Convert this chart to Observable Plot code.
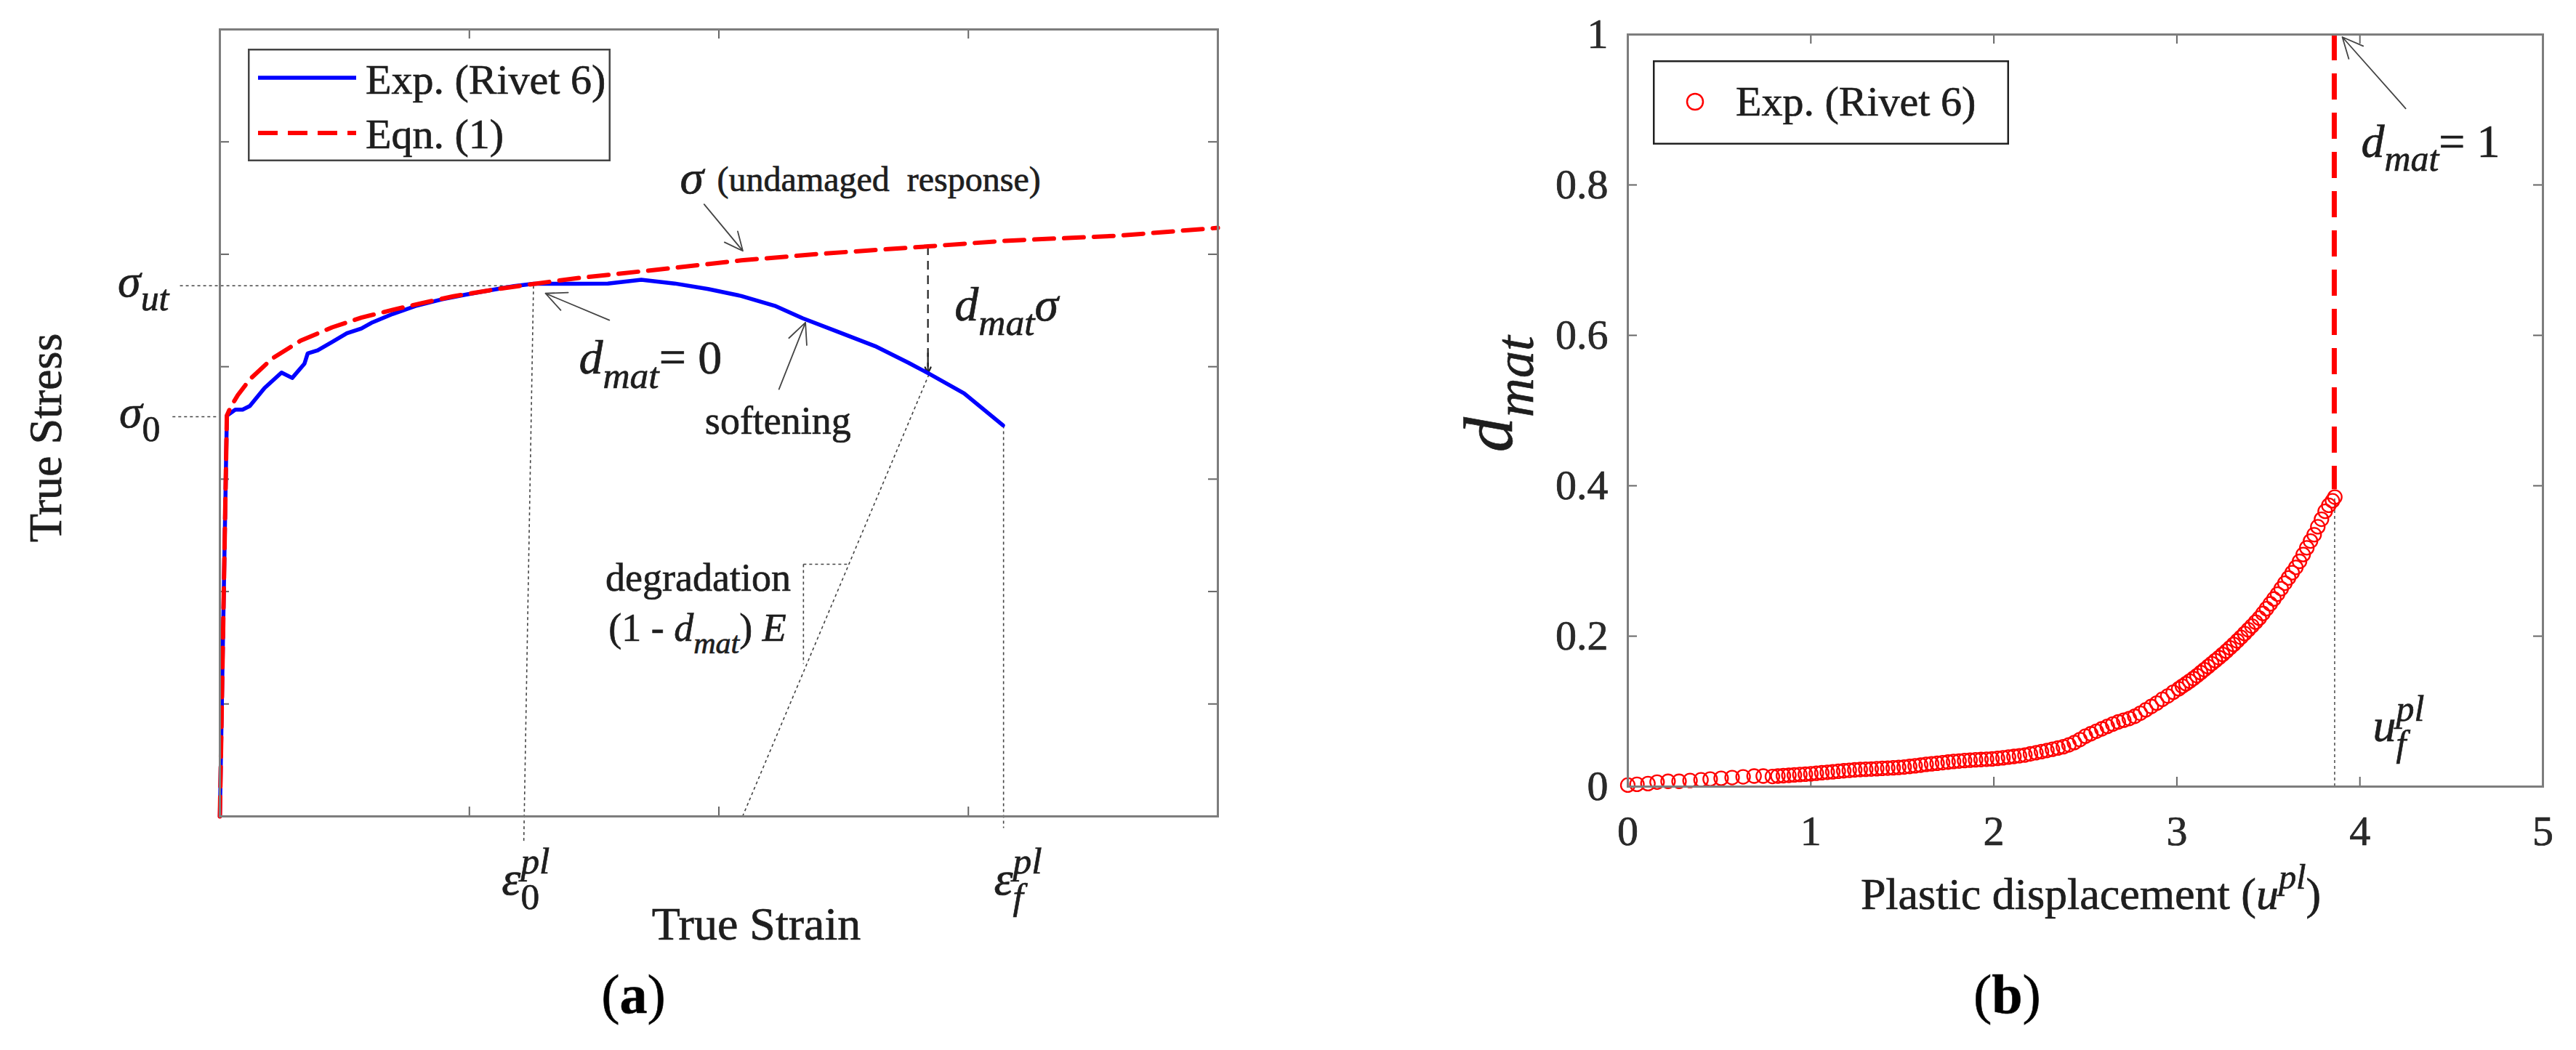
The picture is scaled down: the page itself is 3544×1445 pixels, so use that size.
<!DOCTYPE html>
<html><head><meta charset="utf-8">
<script src="https://cdn.jsdelivr.net/npm/d3@7"></script>
<script src="https://cdn.jsdelivr.net/npm/@observablehq/plot@0.6"></script>
<style>
body{margin:0;background:#fff;}
#wrap{position:relative;width:3544px;height:1445px;overflow:hidden;background:#fff;font-family:"Liberation Serif",serif;}
#wrap > svg{position:absolute;top:0;}
#wrap svg text{stroke:#1e1e1e;stroke-width:0.7px;}
</style></head><body><div id="wrap"></div>
<script>
// ---------------- Panel (a) data (schematic units) ----------------
const aTicksX = [1, 2, 3];
const aTicksY = [1, 2, 3, 4, 5, 6];
const expStrain = [0, 0.028, 0.062, 0.091, 0.12, 0.179, 0.247, 0.29, 0.339, 0.352, 0.392, 0.45, 0.509, 0.567, 0.611, 0.693, 0.79, 0.888, 0.985, 1.082, 1.179, 1.257, 1.42, 1.555, 1.689, 1.823, 1.957, 2.09, 2.224, 2.336, 2.481, 2.626, 2.76, 2.843, 2.983, 3.139];
const expStress = [0, 3.565, 3.618, 3.618, 3.65, 3.81, 3.948, 3.90, 4.027, 4.118, 4.146, 4.22, 4.297, 4.34, 4.394, 4.469, 4.544, 4.598, 4.641, 4.68, 4.717, 4.738, 4.738, 4.74, 4.773, 4.74, 4.691, 4.629, 4.542, 4.431, 4.307, 4.183, 4.035, 3.937, 3.763, 3.478];
const eqnStrain = [0, 0.028, 0.043, 0.072, 0.12, 0.208, 0.324, 0.45, 0.567, 0.693, 0.81, 0.936, 1.082, 1.227, 1.422, 1.756, 2.09, 2.425, 2.838, 3.139, 3.6, 4.0];
const eqnStress = [0, 3.565, 3.64, 3.747, 3.887, 4.07, 4.232, 4.35, 4.436, 4.506, 4.566, 4.626, 4.68, 4.727, 4.785, 4.864, 4.946, 5.007, 5.07, 5.119, 5.165, 5.235];

const sigmaUt = 4.72, sigmaZero = 3.555;
const aGuides = [
  {x1: -0.16, y1: sigmaUt, x2: 1.257, y2: sigmaUt},     // sigma_ut level
  {x1: -0.19, y1: sigmaZero, x2: 0.0, y2: sigmaZero},   // sigma_0 level
  {x1: 1.257, y1: sigmaUt, x2: 1.218, y2: -0.24},       // eps_0
  {x1: 3.141, y1: 3.478, x2: 3.141, y2: -0.103},        // eps_f
  {x1: 2.095, y1: 0, x2: 2.843, y2: 3.937},             // degradation slope
  {x1: 2.339, y1: 2.243, x2: 2.514, y2: 2.243},         // slope triangle
  {x1: 2.339, y1: 2.243, x2: 2.339, y2: 1.357}
];
const aDmatShaft = [{x1: 2.838, y1: 5.07, x2: 2.838, y2: 4.0}];
const aDmatHead = [{x1: 2.838, y1: 4.12, x2: 2.838, y2: 3.94}];
const aArrows = [
  {x1: 1.941, y1: 5.445, x2: 2.096, y2: 5.03},
  {x1: 1.561, y1: 4.414, x2: 1.305, y2: 4.652},
  {x1: 2.241, y1: 3.80, x2: 2.347, y2: 4.393}
];
const aLevelLabels = [
  {x: -0.204, y: sigmaUt, label: "{i:σ}{is:ut}"},
  {x: -0.239, y: sigmaZero, label: "{i:σ}{ns:0}"}
];
const aStrainLabels = [
  {x: 1.13, y: -0.698, label: "{i:ε}{ns:0}{ip:pl}"},
  {x: 3.103, y: -0.698, label: "{i:ε}{is:f}{ip:pl}"}
];
const aMathNotes = [
  {x: 1.844, y: 5.54, label: "{i:σ}"},
  {x: 2.945, y: 4.41, label: "{i:d}{is:mat}{i:σ}"},
  {x: 1.439, y: 3.937, label: "{i:d}{is:mat}{n:= 0}"}
];
const aSmallNote = [{x: 1.993, y: 5.559, label: "(undamaged\u00a0\u00a0response)"}];
const aCenterNotes = [
  {x: 2.237, y: 3.40, label: "softening"},
  {x: 1.917, y: 2.01, label: "degradation"},
  {x: 1.914, y: 1.558, label: "{n:(1 - }{i:d}{is:mat}{n:) }{i:E}"}
];

// ---------------- Panel (b) data ----------------
const bTicksX = [1, 2, 3, 4];
const bTicksY = [0.2, 0.4, 0.6, 0.8];
const bTickLabelsX = [0, 1, 2, 3, 4, 5];
const bTickLabelsY = [0, 0.2, 0.4, 0.6, 0.8, 1];
const plasticDisp = [0.00,0.05,0.11,0.16,0.22,0.28,0.34,0.40,0.45,0.51,0.57,0.63,0.69,0.74,
 0.79,0.82,0.85,0.88,0.91,0.94,0.97,1.00,1.03,1.06,1.09,1.12,1.15,1.18,1.21,1.24,1.27,1.30,1.33,1.36,1.39,1.42,1.45,1.48,1.51,1.54,1.57,1.60,1.63,1.66,1.69,1.72,1.75,1.78,1.81,1.84,1.87,1.90,1.93,1.96,1.99,2.02,2.05,2.08,2.11,2.14,2.17,2.20,2.23,2.26,2.29,2.32,2.35,2.38,2.41,2.44,2.47,2.50,2.53,2.56,2.59,2.62,2.65,2.68,2.71,2.74,2.77,2.80,2.83,2.86,2.89,2.92,2.95,2.98,
 3.01,3.03,3.05,3.07,3.09,3.11,3.13,3.15,3.17,3.19,3.21,3.23,3.25,3.27,3.29,3.31,3.33,3.35,3.37,3.39,3.41,3.43,3.45,3.47,3.49,3.51,3.53,3.55,3.57,3.59,3.61,3.63,3.65,3.67,3.69,3.71,3.73,3.75,3.77,3.79,3.81,3.83,3.85,3.863];
const damage = [0.002,0.003,0.004,0.006,0.007,0.007,0.008,0.009,0.010,0.011,0.012,0.013,0.014,0.014,
 0.0135,0.0140,0.0145,0.0150,0.0155,0.0160,0.0165,0.0170,0.0177,0.0184,0.0190,0.0197,0.0204,0.0210,0.0216,0.0222,0.0227,0.0230,0.0234,0.0238,0.0242,0.0246,0.0250,0.0255,0.0260,0.0268,0.0276,0.0285,0.0295,0.0303,0.0310,0.0318,0.0326,0.0334,0.0340,0.0346,0.0351,0.0356,0.0360,0.0364,0.0368,0.0375,0.0383,0.0392,0.0401,0.0410,0.0420,0.0435,0.0450,0.0465,0.0480,0.0496,0.0513,0.0530,0.0555,0.0585,0.0625,0.0670,0.0703,0.0736,0.0768,0.0800,0.0832,0.0860,0.0882,0.0905,0.0935,0.0975,0.1020,0.1065,0.1110,0.1160,0.1205,0.1255,
 0.1300,0.1335,0.1368,0.1402,0.1437,0.1475,0.1515,0.1555,0.1595,0.1635,0.1675,0.1715,0.1757,0.1800,0.1845,0.1890,0.1937,0.1985,0.2035,0.2085,0.2135,0.2187,0.2240,0.2302,0.2366,0.2430,0.2495,0.2560,0.2632,0.2705,0.2775,0.2845,0.2915,0.2995,0.3085,0.3175,0.3265,0.3350,0.3455,0.3555,0.3660,0.3740,0.3800,0.3850];
const uFail = 3.862, dFail = 0.385;
const bArrow = [{x1: 4.25, y1: 0.9016, x2: 3.904, y2: 0.9966}];
const bNotes = [
  {x: 4.007, y: 0.837, label: "{i:d}{is:mat}{n:= 1}"},
  {x: 4.071, y: 0.06, label: "{i:u}{is:f}{ip:pl}"}
];

// ---------------- build ----------------
const expData = expStrain.map((e, i) => ({e, s: expStress[i]}));
const eqnData = eqnStrain.map((e, i) => ({e, s: eqnStress[i]}));
const bData = plasticDisp.map((u, i) => ({u, d: damage[i]})).filter(d => d.d != null);

const W = 1772, H = 1445;
const ink = "#1e1e1e", frameCol = "#7d7d7d", tickCol = "#666";
const aM = {l: 302, r: 97, t: 40, b: 322};
const bM = {l: 467, r: 46, t: 47, b: 363};
const aFW = W - aM.l - aM.r, aFH = H - aM.t - aM.b;
const bFW = W - bM.l - bM.r, bFH = H - bM.t - bM.b;
const TL = 13;

const plotA = Plot.plot({
  width: W, height: H,
  marginLeft: aM.l, marginRight: aM.r, marginTop: aM.t, marginBottom: aM.b,
  style: {background: "transparent", overflow: "visible", fontFamily: "Liberation Serif, serif"},
  x: {domain: [0, 4], axis: null},
  y: {domain: [0, 7], axis: null},
  marks: [
    Plot.tickX(aTicksX, {x: d => d, stroke: tickCol, strokeWidth: 2, insetTop: aFH - TL}),
    Plot.tickX(aTicksX, {x: d => d, stroke: tickCol, strokeWidth: 2, insetBottom: aFH - TL}),
    Plot.tickY(aTicksY, {y: d => d, stroke: tickCol, strokeWidth: 2, insetRight: aFW - TL}),
    Plot.tickY(aTicksY, {y: d => d, stroke: tickCol, strokeWidth: 2, insetLeft: aFW - TL}),
    Plot.link(aGuides, {x1: "x1", y1: "y1", x2: "x2", y2: "y2", stroke: "#444", strokeWidth: 1.6, strokeDasharray: "4,4"}),
    Plot.link(aDmatShaft, {x1: "x1", y1: "y1", x2: "x2", y2: "y2", stroke: "#222", strokeWidth: 2.2, strokeDasharray: "12,8"}),
    Plot.arrow(aDmatHead, {x1: "x1", y1: "y1", x2: "x2", y2: "y2", stroke: "#222", strokeWidth: 2.2, headLength: 24, headAngle: 50}),
    Plot.arrow(aArrows, {x1: "x1", y1: "y1", x2: "x2", y2: "y2", stroke: "#444", strokeWidth: 1.8, headLength: 26, headAngle: 50}),
    Plot.line(expData, {x: "e", y: "s", stroke: "#0000ff", strokeWidth: 5.5, strokeLinejoin: "round"}),
    Plot.line(eqnData, {x: "e", y: "s", stroke: "#ff0000", strokeWidth: 6, strokeDasharray: "27,14"}),
    Plot.frame({stroke: frameCol, strokeWidth: 3}),
    Plot.text(aLevelLabels, {x: "x", y: "y", text: "label", textAnchor: "end", lineAnchor: "middle", dy: -6, fontSize: 64, fill: ink}),
    Plot.text(aStrainLabels, {x: "x", y: "y", text: "label", textAnchor: "start", lineAnchor: "bottom", fontSize: 66, fill: ink}),
    Plot.text(aMathNotes, {x: "x", y: "y", text: "label", textAnchor: "start", lineAnchor: "bottom", fontSize: 66, fill: ink}),
    Plot.text(aSmallNote, {x: "x", y: "y", text: "label", textAnchor: "start", lineAnchor: "bottom", fontSize: 48, fill: ink}),
    Plot.text(aCenterNotes, {x: "x", y: "y", text: "label", textAnchor: "middle", lineAnchor: "bottom", fontSize: 54, fill: ink}),
    Plot.text(["True Strain"], {x: 2.15, y: -0.963, text: d => d, lineAnchor: "middle", fontSize: 64, fill: ink}),
    Plot.text(["True Stress"], {x: -0.696, y: 3.368, text: d => d, rotate: -90, lineAnchor: "middle", fontSize: 64, fill: ink}),
    Plot.text(["{n:(}{b:a}{n:)}"], {x: 1.658, y: -1.59, text: d => d, lineAnchor: "middle", fontSize: 76, fill: "#000"})
  ]
});

const plotB = Plot.plot({
  width: W, height: H,
  marginLeft: bM.l, marginRight: bM.r, marginTop: bM.t, marginBottom: bM.b,
  style: {background: "transparent", overflow: "visible", fontFamily: "Liberation Serif, serif"},
  x: {domain: [0, 5], axis: null},
  y: {domain: [0, 1], axis: null},
  marks: [
    Plot.tickX(bTicksX, {x: d => d, stroke: tickCol, strokeWidth: 2, insetTop: bFH - TL}),
    Plot.tickX(bTicksX, {x: d => d, stroke: tickCol, strokeWidth: 2, insetBottom: bFH - TL}),
    Plot.tickY(bTicksY, {y: d => d, stroke: tickCol, strokeWidth: 2, insetRight: bFW - TL}),
    Plot.tickY(bTicksY, {y: d => d, stroke: tickCol, strokeWidth: 2, insetLeft: bFW - TL}),
    Plot.ruleX([uFail], {x: d => d, y1: 0, y2: dFail, stroke: "#555", strokeWidth: 1.6, strokeDasharray: "4,4"}),
    Plot.ruleX([uFail - 0.002], {x: d => d, y1: 1, y2: dFail + 0.01, stroke: "#ff0000", strokeWidth: 7, strokeDasharray: "36,18"}),
    Plot.dot(bData, {x: "u", y: "d", r: 9.5, stroke: "#ff0000", strokeWidth: 2.3, fill: "none"}),
    Plot.arrow(bArrow, {x1: "x1", y1: "y1", x2: "x2", y2: "y2", stroke: "#444", strokeWidth: 1.8, headLength: 26, headAngle: 50}),
    Plot.frame({stroke: frameCol, strokeWidth: 3}),
    Plot.text(bTickLabelsX, {x: d => d, y: 0, dy: 62, text: d => String(d), lineAnchor: "middle", fontSize: 58, fill: "#2a2a2a"}),
    Plot.text(bTickLabelsY, {x: 0, y: d => d, dx: -27, text: d => String(d), textAnchor: "end", lineAnchor: "middle", fontSize: 58, fill: "#2a2a2a"}),
    Plot.text(bNotes, {x: "x", y: "y", text: "label", textAnchor: "start", lineAnchor: "bottom", fontSize: 64, fill: ink}),
    Plot.text(["{n:Plastic displacement (}{i:u}{ip:pl}{n:)}"], {x: 2.53, y: -0.144, text: d => d, lineAnchor: "middle", fontSize: 62, fill: ink}),
    Plot.text(["{i:d}{is:mat}"], {x: -0.755, y: 0.522, text: d => d, rotate: -90, lineAnchor: "middle", fontSize: 96, fill: ink}),
    Plot.text(["{n:(}{b:b}{n:)}"], {x: 2.073, y: -0.277, text: d => d, lineAnchor: "middle", fontSize: 76, fill: "#000"})
  ]
});

const wrap = document.getElementById("wrap");
plotA.style.left = "0px";
plotB.style.left = W + "px";
wrap.appendChild(plotA);
wrap.appendChild(plotB);

// legends (overlays inside the frames)
const NS = "http://www.w3.org/2000/svg";
function legend(left, top, w, h, items, stroke) {
  const s = d3.create("svg").attr("width", w).attr("height", h)
    .style("position", "absolute").style("left", left + "px").style("top", top + "px")
    .style("font-family", "Liberation Serif, serif");
  s.append("rect").attr("x", 1.25).attr("y", 1.25).attr("width", w - 2.5).attr("height", h - 2.5)
    .attr("fill", "#fff").attr("stroke", stroke).attr("stroke-width", 2.5);
  items.forEach(it => {
    if (it.kind === "line") s.append("line").attr("x1", it.x1).attr("x2", it.x2).attr("y1", it.y).attr("y2", it.y)
      .attr("stroke", it.color).attr("stroke-width", it.sw).attr("stroke-dasharray", it.dash || null);
    if (it.kind === "circle") s.append("circle").attr("cx", it.cx).attr("cy", it.y).attr("r", it.r)
      .attr("fill", "none").attr("stroke", it.color).attr("stroke-width", 2.5);
    s.append("text").attr("x", it.tx).attr("y", it.ty).attr("font-size", 58).attr("fill", ink).text(it.label);
  });
  wrap.appendChild(s.node());
}
legend(341, 67, 499, 155, [
  {kind: "line", x1: 14, x2: 149, y: 40, color: "#0000ff", sw: 5.5, tx: 162, ty: 62, label: "Exp. (Rivet 6)"},
  {kind: "line", x1: 14, x2: 149, y: 116, color: "#ff0000", sw: 6, dash: "27,14", tx: 162, ty: 137, label: "Eqn. (1)"}
], "#444");
legend(2274, 83, 490, 116, [
  {kind: "circle", cx: 58, y: 57, r: 11, color: "#ff0000", tx: 114, ty: 76, label: "Exp. (Rivet 6)"}
], "#222");

// rich text: {style[pos]:text}  style n/i/b, pos s=sub p=sup
function richify(root) {
  root.querySelectorAll("text").forEach(t => {
    const s = t.textContent;
    if (!s.startsWith("{")) return;
    const fs = parseFloat(getComputedStyle(t).fontSize);
    while (t.firstChild) t.removeChild(t.firstChild);
    t.style.whiteSpace = "pre";
    const re = /\{([a-z]+):([^}]*)\}/g;
    let m, shift = 0, prev = null, prevPos = "";
    while ((m = re.exec(s))) {
      const tag = m[1], txt = m[2];
      const st = tag[0], pos = tag[1] || "";
      const span = document.createElementNS(NS, "tspan");
      span.textContent = txt;
      span.setAttribute("font-style", st === "i" ? "italic" : "normal");
      span.setAttribute("font-weight", st === "b" ? "bold" : "normal");
      let target = 0;
      if (pos === "s") { target = fs * 0.3; span.setAttribute("font-size", fs * 0.78); }
      else if (pos === "p") { target = -fs * 0.45; span.setAttribute("font-size", fs * 0.78); }
      span.setAttribute("dy", target - shift);
      shift = target;
      t.appendChild(span);
      if (prev && ((pos === "p" && prevPos === "s") || (pos === "s" && prevPos === "p"))) {
        span.setAttribute("dx", -prev.getComputedTextLength());
      }
      prev = span; prevPos = pos;
    }
  });
}
richify(wrap);
</script></body></html>
